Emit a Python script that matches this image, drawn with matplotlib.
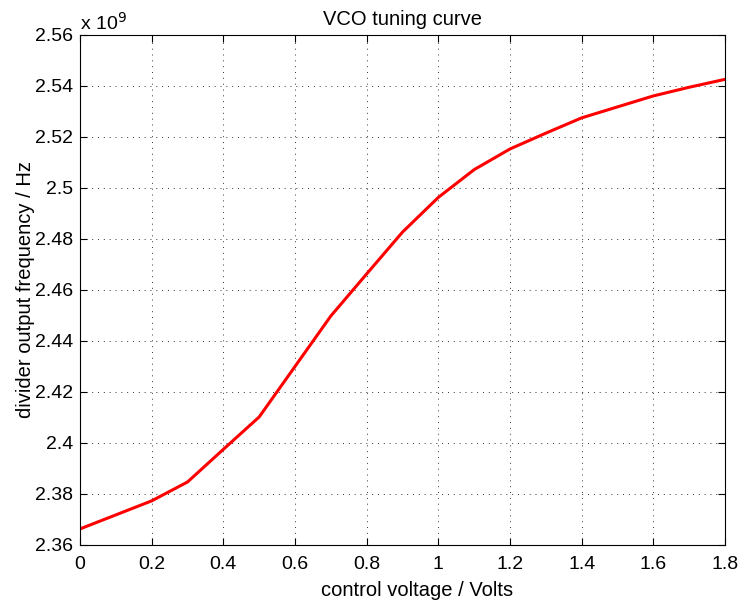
import numpy as np
import matplotlib.pyplot as plt
from matplotlib.ticker import FuncFormatter

plt.rcParams['font.family'] = ['Liberation Sans', 'DejaVu Sans']

# control voltage (V) and divider output frequency (GHz)
volts = [0, 0.1, 0.2, 0.3, 0.4, 0.5, 0.6, 0.7, 0.8, 0.9, 1.0,
         1.1, 1.2, 1.3, 1.4, 1.5, 1.6, 1.7, 1.8]
freq_ghz = [2.3663, 2.3718, 2.3773, 2.3847, 2.3975, 2.4102, 2.4300, 2.4498,
            2.4663, 2.4827, 2.4963, 2.5072, 2.5153, 2.5215, 2.5275, 2.5318,
            2.5361, 2.5395, 2.5426]
freq = np.array(freq_ghz) * 1e9

fig = plt.figure(figsize=(7.42, 6.02), dpi=100)
ax = fig.add_axes([0.1078, 0.0947, 0.8693, 0.8472])

ax.plot(volts, freq, color='red', linewidth=2.2)

ax.set_xlim(0, 1.8)
ax.set_ylim(2.36e9, 2.56e9)
ax.set_xticks(np.arange(0, 1.81, 0.2))
ax.set_yticks(np.arange(2.36e9, 2.561e9, 0.02e9))
ax.xaxis.set_major_formatter(FuncFormatter(lambda v, p: '%g' % round(v, 2)))
ax.yaxis.set_major_formatter(FuncFormatter(lambda v, p: '%g' % round(v / 1e9, 2)))
ax.tick_params(direction='in', top=True, right=True, labelsize=14, length=5)
ax.tick_params(axis='x', pad=8)
ax.tick_params(axis='y', pad=5)
ax.grid(True, linestyle=(0, (1, 5)), color='#333333', linewidth=0.7)
for s in ax.spines.values():
    s.set_linewidth(0.8)

ax.text(0.0, 1.003, r'x 10$^9$', transform=ax.transAxes, fontsize=14,
        ha='left', va='bottom')
ax.set_title('VCO tuning curve', fontsize=14.5, pad=7)
ax.set_xlabel('control voltage / Volts', fontsize=14.5)
ax.set_ylabel('divider output frequency / Hz', fontsize=14.5, labelpad=0)
ax.xaxis.set_label_coords(0.523, -0.071)

fig.savefig('out.png', dpi=100)
